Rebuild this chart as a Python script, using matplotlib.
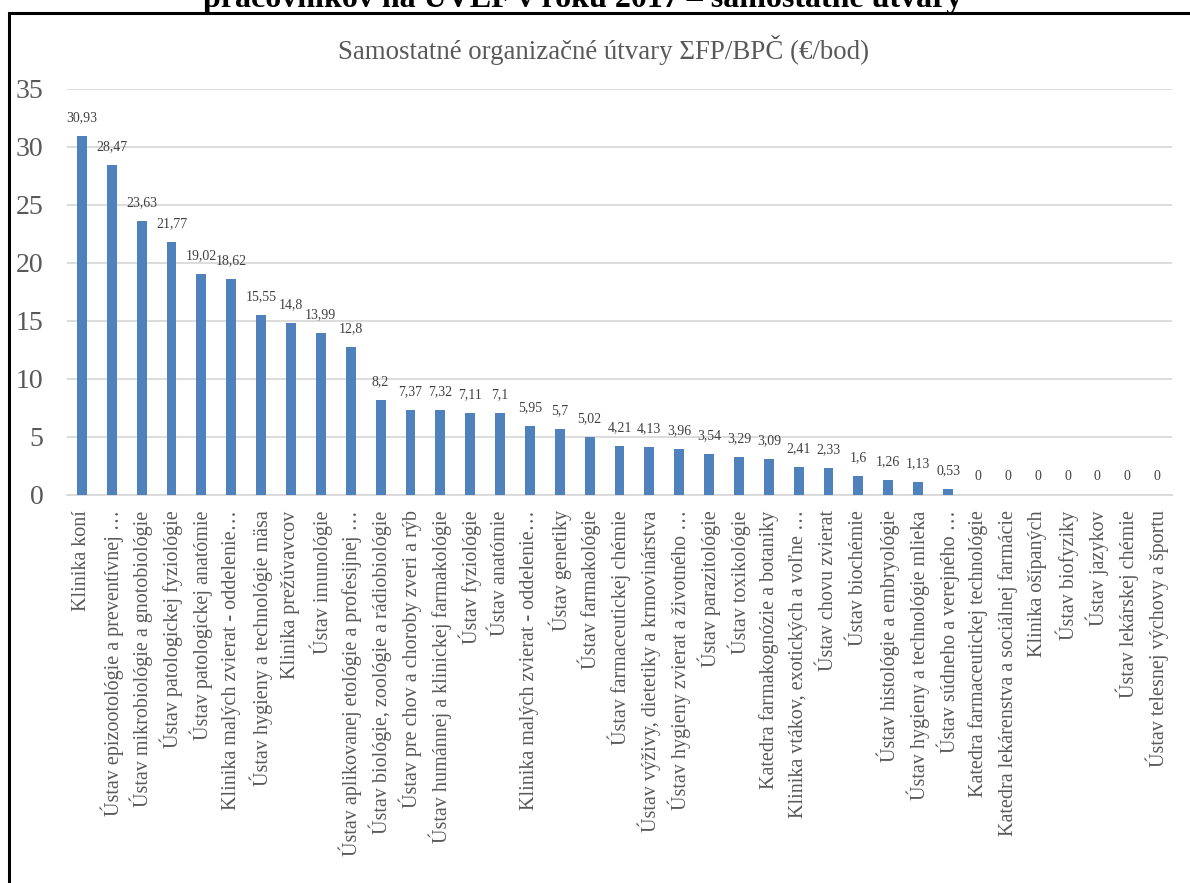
import matplotlib
matplotlib.use("Agg")
import matplotlib.pyplot as plt
from matplotlib.patches import Rectangle

categories = [
    "Klinika koní",
    "Ústav epizootológie a preventívnej …",
    "Ústav mikrobiológie a gnotobiológie",
    "Ústav patologickej fyziológie",
    "Ústav patologickej anatómie",
    "Klinika malých zvierat - oddelenie…",
    "Ústav hygieny a technológie mäsa",
    "Klinika prežúvavcov",
    "Ústav imunológie",
    "Ústav aplikovanej etológie a profesijnej …",
    "Ústav biológie, zoológie a rádiobiológie",
    "Ústav pre chov a choroby zveri a rýb",
    "Ústav humánnej a klinickej farmakológie",
    "Ústav fyziológie",
    "Ústav anatómie",
    "Klinika malých zvierat - oddelenie…",
    "Ústav genetiky",
    "Ústav farmakológie",
    "Ústav farmaceutickej chémie",
    "Ústav výživy, dietetiky a krmovinárstva",
    "Ústav hygieny zvierat a životného …",
    "Ústav parazitológie",
    "Ústav toxikológie",
    "Katedra farmakognózie a botaniky",
    "Klinika vtákov, exotických a voľne …",
    "Ústav chovu zvierat",
    "Ústav biochémie",
    "Ústav histológie a embryológie",
    "Ústav hygieny a technológie mlieka",
    "Ústav súdneho a verejného …",
    "Katedra farmaceutickej technológie",
    "Katedra lekárenstva a sociálnej farmácie",
    "Klinika ošípaných",
    "Ústav biofyziky",
    "Ústav jazykov",
    "Ústav lekárskej chémie",
    "Ústav telesnej výchovy a športu",
]
values = [30.93, 28.47, 23.63, 21.77, 19.02, 18.62, 15.55, 14.8, 13.99, 12.8,
          8.2, 7.37, 7.32, 7.11, 7.1, 5.95, 5.7, 5.02, 4.21, 4.13, 3.96, 3.54,
          3.29, 3.09, 2.41, 2.33, 1.6, 1.26, 1.13, 0.53, 0, 0, 0, 0, 0, 0, 0]
yticks = [0, 5, 10, 15, 20, 25, 30, 35]

plt.rcParams["font.family"] = ["Liberation Serif", "DejaVu Serif"]

W, H = 1190, 883
fig = plt.figure(figsize=(W / 100, H / 100), dpi=100)

# outer chart border
fig.patches.append(Rectangle((8.5 / W, -0.01), 1.2, (H - 12.5) / H + 0.01,
                             transform=fig.transFigure, fill=False,
                             edgecolor="black", linewidth=2.2, zorder=0))

# cut-off heading above the chart
fig.text(583 / W, 1 - 7 / H, "pracovníkov na UVLF v roku 2017 – samostatné útvary",
         ha="center", va="baseline", fontsize=23, fontweight="bold", color="black")

ax = fig.add_axes([67 / W, 1 - 495 / H, (1172 - 67) / W, (495 - 89) / H])
x = list(range(len(categories)))
ax.bar(x, values, width=0.33, color="#4f81bd", zorder=3)
ax.set_xlim(-0.5, len(categories) - 0.5)
ax.set_ylim(0, 35)
ax.set_yticks(yticks)
ax.set_yticklabels([str(t) for t in yticks], fontsize=20, color="#595959")
ax.tick_params(axis="y", length=0, pad=17)
ax.set_xticks(x)
ax.set_xticklabels(categories, rotation=90, fontsize=14.5, color="#595959",
                   ha="center", va="top")
ax.tick_params(axis="x", length=0, pad=11)
ax.grid(axis="y", color="#d9d9d9", linewidth=1.3, zorder=0)
for s in ["top", "right", "left"]:
    ax.spines[s].set_visible(False)
ax.spines["bottom"].set_color("#d9d9d9")
ax.spines["bottom"].set_linewidth(1.3)

for xi, v in zip(x, values):
    lab = f"{v:g}".replace(".", ",")
    ax.annotate(lab, (xi, v), xytext=(0, 8.5), textcoords="offset points",
                ha="center", va="bottom", fontsize=10, color="#404040")

fig.text(604 / W, 1 - 50 / H, "Samostatné organizačné útvary ΣFP/BPČ (€/bod)",
         ha="center", va="center", fontsize=19.4, color="#595959")

fig.savefig("out.png", dpi=100)
